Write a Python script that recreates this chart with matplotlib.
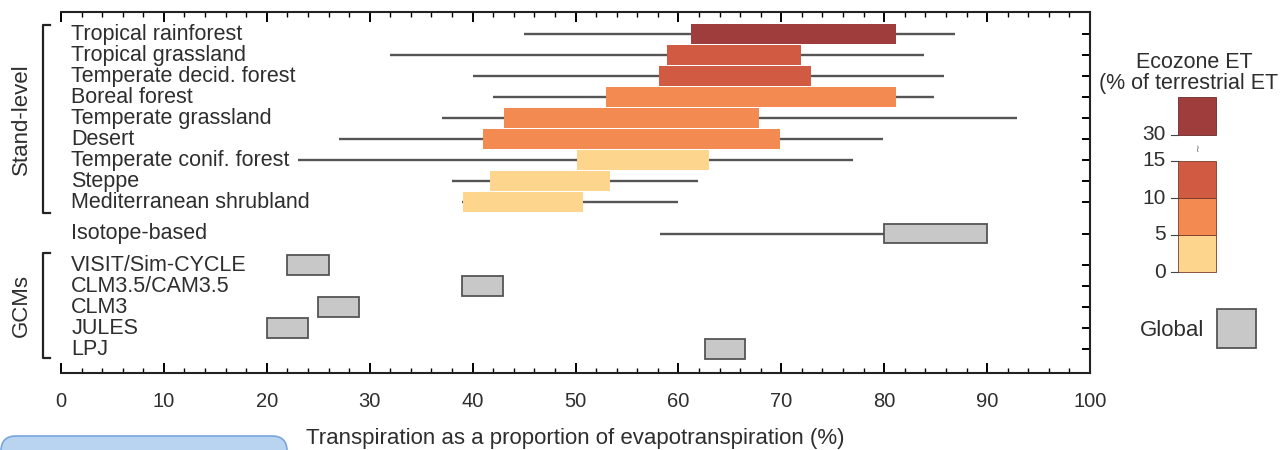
import matplotlib.pyplot as plt
import numpy as np
from matplotlib.patches import Rectangle, FancyBboxPatch
from matplotlib.ticker import MultipleLocator

plt.rcParams["font.family"] = ["Liberation Sans", "DejaVu Sans"]

# stand-level ecozones: whisker range and box (interquartile-like) range, % T/ET
ecozones = [
    "Tropical rainforest", "Tropical grassland", "Temperate decid. forest",
    "Boreal forest", "Temperate grassland", "Desert",
    "Temperate conif. forest", "Steppe", "Mediterranean shrubland",
]
eco_low = [45.0, 32.0, 40.0, 42.0, 37.0, 27.0, 23.0, 38.0, 39.0]
eco_q1 = [61.2, 58.9, 58.1, 53.0, 43.1, 41.0, 50.1, 41.7, 39.1]
eco_q3 = [81.1, 71.9, 72.9, 81.1, 67.8, 69.9, 63.0, 53.4, 50.7]
eco_high = [86.9, 83.9, 85.8, 84.8, 92.9, 79.9, 77.0, 61.9, 60.0]
eco_share = [30, 15, 15, 10, 10, 10, 5, 5, 5]  # ecozone ET class, % of terrestrial ET

# isotope-based global estimate
iso_label = "Isotope-based"
iso_low, iso_q1, iso_q3 = 58.2, 80.0, 90.0

# GCM global estimates
gcms = ["VISIT/Sim-CYCLE", "CLM3.5/CAM3.5", "CLM3", "JULES", "LPJ"]
gcm_low = [22.0, 39.0, 25.0, 20.0, 62.6]
gcm_high = [26.0, 43.0, 29.0, 24.0, 66.5]

# legend classes
share_levels = [0, 5, 10, 15]
share_colors = {5: "#fdd58c", 10: "#f28a52", 15: "#d05b42", 30: "#9f3c3c"}
global_color = "#c8c8c8"
line_color = "#555555"
text_color = "#2e2e2e"

W, H = 1281, 450
fig = plt.figure(figsize=(W / 100, H / 100), dpi=100)
ax = fig.add_axes([61 / W, 1 - 373 / H, 1029 / W, 361 / H])

eco_y = np.arange(len(ecozones))
iso_y = len(ecozones) + 0.5
gcm_y = np.arange(len(gcms)) + len(ecozones) + 2
bar_h = 0.93

for y, lo, q1, q3, hi, s in zip(eco_y, eco_low, eco_q1, eco_q3, eco_high, eco_share):
    ax.hlines(y, lo, hi, color=line_color, lw=1.7, zorder=1)
    ax.barh(y, q3 - q1, left=q1, height=bar_h, color=share_colors[s], lw=0, zorder=2)

ax.hlines(iso_y, iso_low, iso_q1, color=line_color, lw=1.7, zorder=1)
ax.barh(iso_y, iso_q3 - iso_q1, left=iso_q1, height=bar_h, color=global_color,
        edgecolor=line_color, lw=1.3, zorder=2)
ax.barh(gcm_y, np.array(gcm_high) - np.array(gcm_low), left=gcm_low, height=bar_h,
        color=global_color, edgecolor=line_color, lw=1.3, zorder=2)

label_kw = dict(ha="left", va="center", fontsize=15.5, color=text_color)
for y, name in zip(eco_y, ecozones):
    ax.text(1.0, y, name, **label_kw)
ax.text(1.0, iso_y, iso_label, **label_kw)
for y, name in zip(gcm_y, gcms):
    ax.text(1.0, y, name, **label_kw)

ax.set_xlim(0, 100)
ax.set_ylim(16.14, -1.05)
ax.xaxis.set_major_locator(MultipleLocator(10))
ax.xaxis.set_minor_locator(MultipleLocator(2))
ax.tick_params(axis="x", which="both", direction="in", top=True, bottom=True,
               labelsize=14.5, labelcolor=text_color, pad=14)
ax.tick_params(axis="x", which="major", length=7, width=1.4)
ax.tick_params(axis="x", which="minor", length=3.5, width=1.0)
ax.set_yticks(list(eco_y) + [iso_y] + list(gcm_y))
ax.tick_params(axis="y", which="major", direction="in", left=False, right=True,
               labelleft=False, length=6, width=1.4)
ax.spines["left"].set_visible(False)
for side in ("top", "bottom", "right"):
    ax.spines[side].set_linewidth(1.5)
    ax.spines[side].set_color("#222222")
ax.set_xlabel("Transpiration as a proportion of evapotranspiration (%)",
              fontsize=16, color=text_color, labelpad=12)

# overlay in pixel coordinates for brackets and legend
ov = fig.add_axes([0, 0, 1, 1])
ov.set_xlim(0, W)
ov.set_ylim(H, 0)
ov.axis("off")

for y0, y1, label in [(25, 213, "Stand-level"), (253, 358, "GCMs")]:
    ov.plot([50, 43, 43, 50], [y0, y0, y1, y1], color="#222222", lw=1.6)
    ov.text(21, (y0 + y1) / 2, label, rotation=90, ha="center", va="center",
            fontsize=16, color=text_color)

# legend title runs off the right edge in the original, so its ")" is not shown
ov.text(1194, 63, "Ecozone ET", ha="center", va="center", fontsize=15.5, color=text_color)
ov.text(1099, 84, "(% of terrestrial ET", ha="left", va="center", fontsize=15.5,
        color=text_color)

bx0, bx1 = 1178, 1216
px_per = 7.4
for lo, hi in zip(share_levels[:-1], share_levels[1:]):
    y_top = 272 - px_per * hi
    ov.add_patch(Rectangle((bx0, y_top), bx1 - bx0, px_per * (hi - lo),
                           facecolor=share_colors[hi], edgecolor="#7a3a2a", lw=0.6))
for lvl in share_levels:
    yy = 272 - px_per * lvl
    ov.plot([1171, bx0], [yy, yy], color="#444444", lw=0.8)
    ov.text(1166, yy, str(lvl), ha="right", va="center", fontsize=15, color=text_color)
ov.add_patch(Rectangle((bx0, 97), bx1 - bx0, 38, facecolor=share_colors[30],
                       edgecolor="#6a2a2a", lw=0.6))
ov.plot([1171, bx0], [135, 135], color="#444444", lw=0.8)
ov.text(1166, 135, "30", ha="right", va="center", fontsize=15, color=text_color)
ov.text(1197, 149, "≀", ha="center", va="center", fontsize=7, color="#666666")

ov.text(1204, 330, "Global", ha="right", va="center", fontsize=16, color=text_color)
ov.add_patch(Rectangle((1217, 309), 39, 39, facecolor=global_color,
                       edgecolor=line_color, lw=1.3))

ov.add_patch(FancyBboxPatch((1, 436), 286, 40, boxstyle="round,pad=0,rounding_size=15",
                            facecolor="#b9d4f0", edgecolor="#78a6dc", lw=1.2))

fig.savefig("out.png", dpi=100, facecolor="white")
